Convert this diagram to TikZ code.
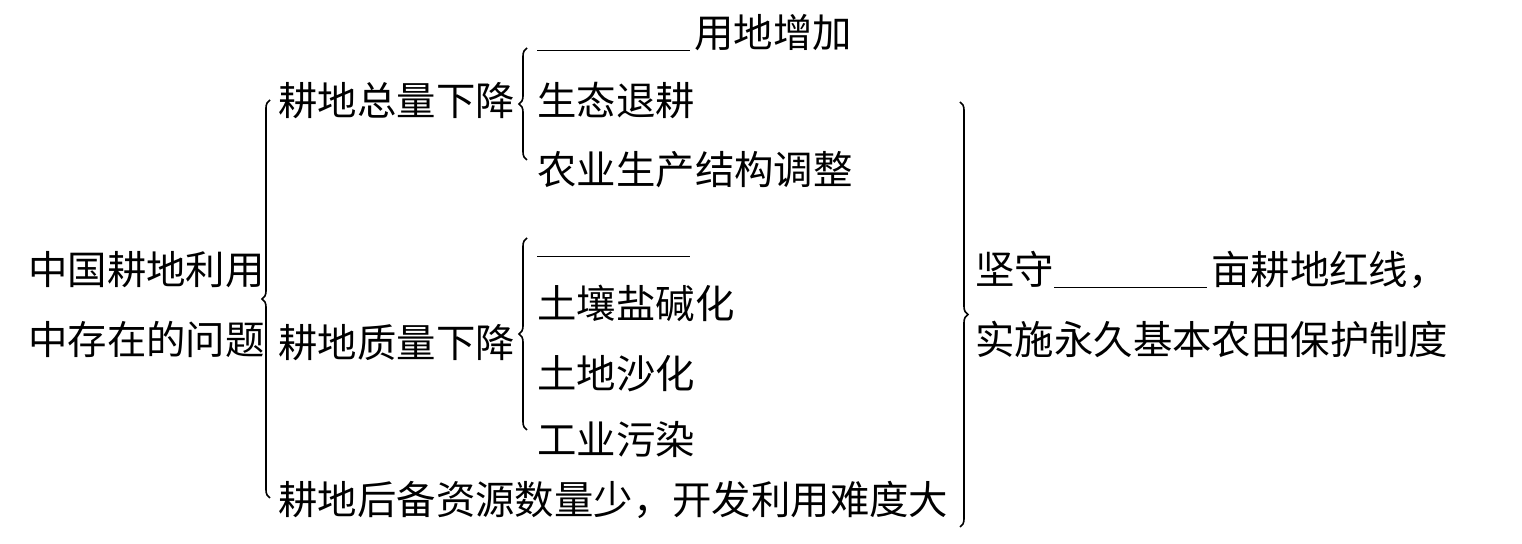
\documentclass[tikz,border=0pt]{standalone}
\usepackage{fontspec}
\setmainfont{Noto Sans CJK SC}
\usetikzlibrary{positioning,calc,decorations.pathreplacing}
\tikzstyle{txt} = [anchor=west, inner sep=0pt, text height=17.3pt, text depth=2.4pt, font=\fontsize{19.7}{24}\selectfont]
\tikzstyle{brc} = [decorate, decoration={brace, amplitude=4pt}, line width=0.8pt]
\newcommand{\blank}[1]{\rule[-1.6pt]{#1}{0.7pt}}

\begin{document}
\begin{tikzpicture}[x=0.5pt, y=0.5pt]
\useasboundingbox (0,0) rectangle (1522,544);
	\node[txt] (wenti1) at (28, 274) {中国耕地利用};
	\node[txt] (wenti2) at (28, 204) {中存在的问题};

	\node[txt] (zongliang) at (278, 443) {耕地总量下降};
	\node[txt] (yongdi) at (537, 511) {\blank{76.5pt}\hspace{2pt}用地增加};
	\node[txt] (tuigeng) at (537, 443) {生态退耕};
	\node[txt] (jiegou) at (537, 374) {农业生产结构调整};

	\node[txt] (zhiliang) at (278, 201) {耕地质量下降};
	\node[txt] (kong) at (537, 305) {\blank{76.5pt}};
	\node[txt] (yanjian) at (537, 240) {土壤盐碱化};
	\node[txt] (shahua) at (537, 170) {土地沙化};
	\node[txt] (wuran) at (537, 104) {工业污染};

	\node[txt] (houbei) at (278, 44) {耕地后备资源数量少，开发利用难度大};

	\node[txt] (cuoshi1) at (975, 274) {坚守\blank{76.5pt}\hspace{2pt}亩耕地红线，};
	\node[txt] (cuoshi2) at (975, 204) {实施永久基本农田保护制度};

	% braces
	\coordinate (b0t) at (270, 444);
	\coordinate (b0b) at (270, 46);
	\coordinate (b1t) at (527, 496);
	\coordinate (b1b) at (527, 384);
	\coordinate (b2t) at (527, 306);
	\coordinate (b2b) at (527, 114);
	\coordinate (b3t) at (960, 442);
	\coordinate (b3b) at (960, 17);
	\draw[brc] (b0b) -- (b0t);
	\draw[brc] (b1b) -- (b1t);
	\draw[brc] (b2b) -- (b2t);
	\draw[brc] (b3t) -- (b3b);
\end{tikzpicture}
\end{document}
